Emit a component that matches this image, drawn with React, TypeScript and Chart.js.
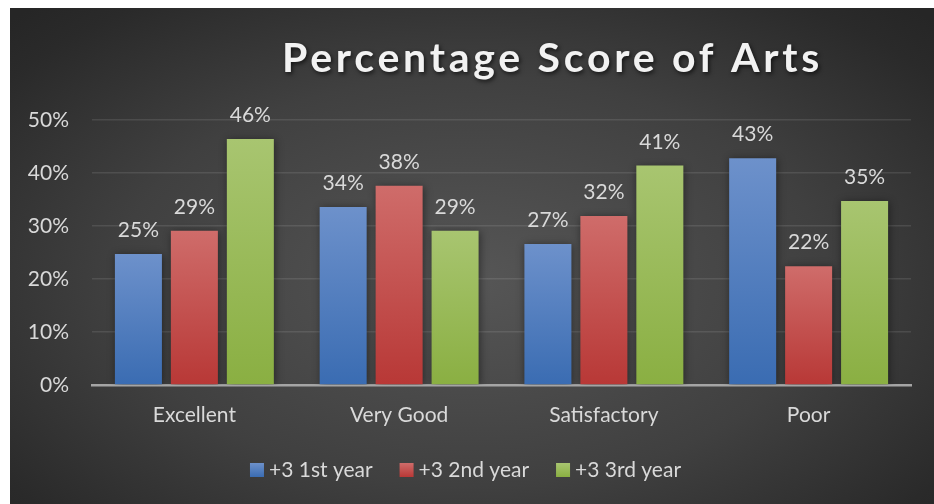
import React, { useEffect, useRef } from "react";
import { Chart, registerables } from "chart.js";

Chart.register(...registerables);

const categories = ["Excellent", "Very Good", "Satisfactory", "Poor"];
const seriesNames = ["+3 1st year", "+3 2nd year", "+3 3rd year"];
const firstYear = [24.7, 33.6, 26.6, 42.8];
const secondYear = [29.1, 37.6, 31.9, 22.4];
const thirdYear = [46.4, 29.1, 41.4, 34.7];
const yMin = 0;
const yMax = 50;
const yStep = 10;
const chartTitle = "Percentage Score of Arts";

const FONT = "Lato, 'Open Sans', sans-serif";
const TEXT = "#d9d9d9";
const FS = 21;

const palettes = [
  { top: "#6d91cb", bottom: "#3a6cb2", mid: "#4f81bd" },
  { top: "#cf6c6a", bottom: "#b83836", mid: "#c0504d" },
  { top: "#a8c570", bottom: "#8aaf42", mid: "#9bbb59" },
];

const barGradient = (p: { top: string; bottom: string; mid: string }) => (c: any) => {
  if (c.type !== "data") return p.mid;
  const chart = c.chart;
  const ys = chart.scales && chart.scales.y;
  const v = c.parsed ? c.parsed.y : c.raw;
  if (!ys || v == null) return p.mid;
  const y0 = ys.getPixelForValue(v);
  const y1 = ys.getPixelForValue(0);
  if (!isFinite(y0) || !isFinite(y1) || y0 === y1) return p.mid;
  const g = chart.ctx.createLinearGradient(0, y0, 0, y1);
  g.addColorStop(0, p.top);
  g.addColorStop(1, p.bottom);
  return g;
};

const shadowPlugin = {
  id: "barShadow",
  beforeDatasetsDraw(chart: any) {
    const ctx = chart.ctx;
    ctx.save();
    ctx.shadowColor = "rgba(0,0,0,0.45)";
    ctx.shadowBlur = 8;
    ctx.shadowOffsetX = 1;
    ctx.shadowOffsetY = 1;
  },
  afterDatasetsDraw(chart: any) {
    chart.ctx.restore();
  },
};

const dataLabelPlugin = {
  id: "dataLabels",
  afterDatasetsDraw(chart: any) {
    const ctx = chart.ctx;
    ctx.save();
    ctx.font = `${FS}px ${FONT}`;
    ctx.fillStyle = TEXT;
    ctx.textAlign = "center";
    ctx.textBaseline = "alphabetic";
    chart.data.datasets.forEach((ds: any, i: number) => {
      const meta = chart.getDatasetMeta(i);
      meta.data.forEach((bar: any, j: number) => {
        const v = ds.data[j];
        ctx.fillText(`${Math.round(v)}%`, bar.x, bar.y - 17);
      });
    });
    ctx.restore();
  },
};

const titlePlugin = {
  id: "customTitle",
  afterDraw(chart: any) {
    const ctx = chart.ctx;
    ctx.save();
    ctx.font = `bold 41px ${FONT}`;
    (ctx as any).letterSpacing = "0px";
    const w0 = ctx.measureText(chartTitle).width;
    const targetW = 541;
    const ls = Math.max(0, (targetW - w0) / chartTitle.length);
    (ctx as any).letterSpacing = `${ls}px`;
    ctx.fillStyle = "#f2f2f2";
    ctx.textAlign = "left";
    ctx.textBaseline = "alphabetic";
    ctx.shadowColor = "rgba(0,0,0,0.65)";
    ctx.shadowBlur = 4;
    ctx.shadowOffsetX = 1.5;
    ctx.shadowOffsetY = 2;
    ctx.fillText(chartTitle, 272, 64);
    ctx.restore();
  },
};

const legendPlugin = {
  id: "customLegend",
  afterDraw(chart: any) {
    const ctx = chart.ctx;
    ctx.save();
    ctx.font = `${FS}px ${FONT}`;
    const box = 14;
    const gapBT = 5;
    const gapItems = 27;
    const items = chart.data.datasets.map((ds: any, i: number) => ({
      text: ds.label as string,
      w: ctx.measureText(ds.label).width,
      p: palettes[i],
    }));
    const total =
      items.reduce((s: number, it: any) => s + box + gapBT + it.w, 0) + gapItems * (items.length - 1);
    let x = 455.5 - total / 2;
    const baseline = 469;
    items.forEach((it: any) => {
      const g = ctx.createLinearGradient(0, baseline - box, 0, baseline);
      g.addColorStop(0, it.p.top);
      g.addColorStop(1, it.p.bottom);
      ctx.fillStyle = g;
      ctx.fillRect(x, baseline - box, box, box);
      ctx.fillStyle = TEXT;
      ctx.textAlign = "left";
      ctx.textBaseline = "alphabetic";
      ctx.fillText(it.text, x + box + gapBT, baseline);
      x += box + gapBT + it.w + gapItems;
    });
    ctx.restore();
  },
};

export default function App() {
  const ref = useRef<HTMLCanvasElement | null>(null);

  useEffect(() => {
    if (!ref.current) return;
    const seriesValues = [firstYear, secondYear, thirdYear];
    const chart = new Chart(ref.current, {
      type: "bar",
      data: {
        labels: categories,
        datasets: seriesNames.map((name, i) => ({
          label: name,
          data: seriesValues[i],
          backgroundColor: barGradient(palettes[i]) as any,
          borderWidth: 0,
          categoryPercentage: 0.82,
          barPercentage: 0.84,
        })),
      },
      options: {
        animation: false,
        responsive: false,
        layout: { padding: { top: 112, right: 23, bottom: 56, left: 0 } },
        plugins: {
          legend: { display: false },
          title: { display: false },
          tooltip: { enabled: false },
        },
        scales: {
          x: {
            grid: { display: false, drawTicks: false },
            border: { display: true, color: "#a5a5a5", width: 2.5 },
            ticks: {
              color: TEXT,
              font: { family: FONT, size: FS },
              padding: 18,
            },
            afterFit: (s: any) => {
              s.height = 63;
            },
          },
          y: {
            min: yMin,
            max: yMax,
            ticks: {
              stepSize: yStep,
              color: TEXT,
              font: { family: FONT, size: FS },
              padding: 23,
              callback: (v: any) => `${v}%`,
            },
            grid: {
              drawTicks: false,
              color: (c: any) => (c.tick && c.tick.value === 0 ? "rgba(0,0,0,0)" : "rgba(255,255,255,0.1)"),
              lineWidth: 1.5,
            },
            border: { display: false },
            afterFit: (s: any) => {
              s.width = 82;
            },
          },
        },
      },
      plugins: [shadowPlugin, dataLabelPlugin, titlePlugin, legendPlugin],
    });
    return () => chart.destroy();
  }, []);

  return (
    <div
      style={{
        position: "fixed",
        left: 10,
        top: 8,
        width: 924,
        height: 496,
        background:
          "radial-gradient(ellipse 70% 75% at 50% 55%, #565656 0%, #404040 55%, #2a2a2a 90%, #262626 100%)",
      }}
    >
      <canvas ref={ref} width={924} height={496} style={{ display: "block" }} />
    </div>
  );
}
